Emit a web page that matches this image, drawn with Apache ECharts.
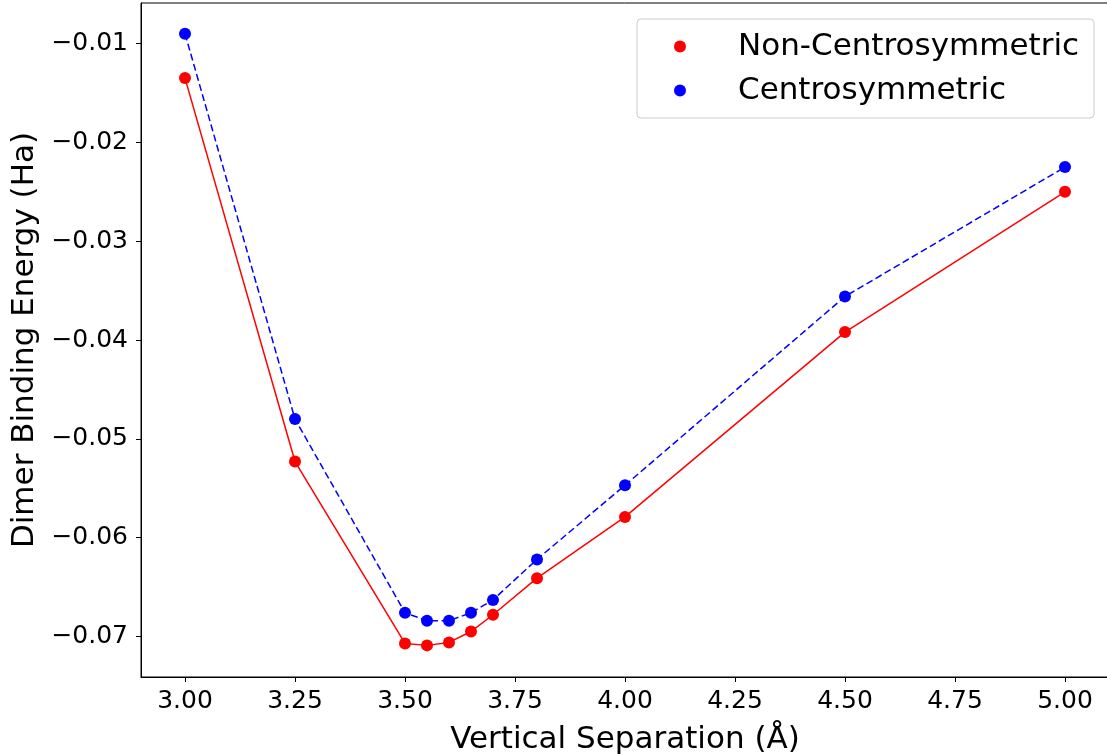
<!DOCTYPE html>
<html>
<head>
<meta charset="utf-8">
<script src="https://cdn.jsdelivr.net/npm/echarts@6/dist/echarts.min.js"></script>
<style>
  html, body { margin: 0; padding: 0; background: #fff; }
  #chart { width: 1107px; height: 754px; }
</style>
</head>
<body>
<div id="chart"></div>
<script>
// Data
const separations = [3.00, 3.25, 3.50, 3.55, 3.60, 3.65, 3.70, 3.80, 4.00, 4.50, 5.00];
const nonCentro = [-0.0135, -0.0523, -0.0707, -0.0709, -0.0706, -0.0695, -0.0678, -0.0641, -0.0579, -0.0392, -0.0250];
const centro = [-0.0090, -0.0480, -0.0676, -0.0684, -0.0684, -0.0676, -0.0663, -0.0622, -0.0547, -0.0356, -0.0225];
const xTicks = [3.00, 3.25, 3.50, 3.75, 4.00, 4.25, 4.50, 4.75, 5.00];
const yTicks = [-0.07, -0.06, -0.05, -0.04, -0.03, -0.02, -0.01];
const seriesNames = ['Non-Centrosymmetric', 'Centrosymmetric'];

const FONT = 'DejaVu Sans';
const chart = echarts.init(document.getElementById('chart'), null, { renderer: 'canvas' });

function pairs(xs, ys) { return xs.map((x, i) => [x, ys[i]]); }

const option = {
  animation: false,
  backgroundColor: '#ffffff',
  grid: {
    left: 141, top: 3, right: -2, bottom: 77,
    containLabel: false,
    outerBoundsMode: 'none',
    show: true, borderColor: '#000', borderWidth: 1, backgroundColor: 'transparent'
  },
  legend: {
    left: 637, top: 19,
    orient: 'vertical',
    icon: 'circle',
    itemWidth: 12, itemHeight: 12,
    itemGap: 13,
    selectedMode: false,
    padding: [12, 15, 12, 37],
    backgroundColor: 'rgba(255,255,255,0.8)',
    borderColor: '#cccccc', borderWidth: 1, borderRadius: 4,
    textStyle: { fontFamily: FONT, fontSize: 31, color: '#000', padding: [0, 0, 0, 47] },
    data: seriesNames
  },
  xAxis: {
    type: 'value',
    min: 2.9, max: 5.1,
    name: 'Vertical Separation (Å)',
    nameLocation: 'middle',
    nameGap: 47,
    nameTextStyle: { fontFamily: FONT, fontSize: 31, color: '#000' },
    axisLine: { show: true, onZero: false, lineStyle: { color: '#000', width: 1 } },
    axisTick: { show: true, inside: false, length: 5, lineStyle: { color: '#000' }, customValues: xTicks },
    axisLabel: {
      show: true, margin: 12, fontFamily: FONT, fontSize: 25, color: '#000',
      customValues: xTicks,
      formatter: v => Number(v).toFixed(2)
    },
    splitLine: { show: false }
  },
  yAxis: {
    type: 'value',
    min: -0.0741, max: -0.0059,
    name: 'Dimer Binding Energy (Ha)',
    nameLocation: 'middle',
    nameRotate: 90,
    nameGap: 100,
    nameTextStyle: { fontFamily: FONT, fontSize: 31, color: '#000' },
    axisLine: { show: true, onZero: false, lineStyle: { color: '#000', width: 1 } },
    axisTick: { show: true, inside: false, length: 5, lineStyle: { color: '#000' }, customValues: yTicks },
    axisLabel: {
      show: true, margin: 13, fontFamily: FONT, fontSize: 25, color: '#000',
      customValues: yTicks,
      formatter: v => (v < 0 ? '\u2212' : '') + Math.abs(v).toFixed(2)
    },
    splitLine: { show: false }
  },
  series: [
    {
      name: seriesNames[0],
      type: 'line',
      data: pairs(separations, nonCentro),
      symbol: 'circle', symbolSize: 12, showSymbol: true,
      itemStyle: { color: '#ff0000' },
      lineStyle: { color: '#ff0000', width: 1.5, type: 'solid' },
      emphasis: { disabled: true },
      z: 2
    },
    {
      name: seriesNames[1],
      type: 'line',
      data: pairs(separations, centro),
      symbol: 'circle', symbolSize: 12, showSymbol: true,
      itemStyle: { color: '#0000ff' },
      lineStyle: { color: '#0000ff', width: 1.5, type: [7, 3.5] },
      emphasis: { disabled: true },
      z: 3
    }
  ]
};
chart.setOption(option);
</script>
</body>
</html>
